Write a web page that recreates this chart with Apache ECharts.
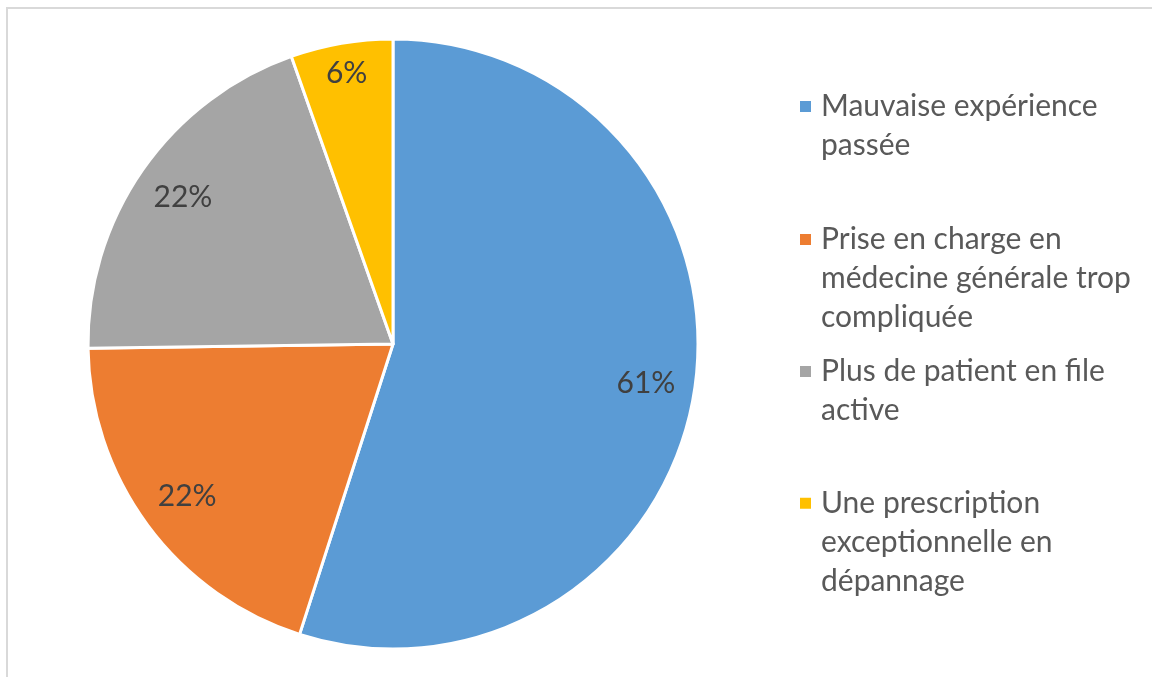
<!DOCTYPE html>
<html>
<head>
<meta charset="utf-8">
<script src="https://cdn.jsdelivr.net/npm/echarts@6/dist/echarts.min.js"></script>
<style>html,body{margin:0;padding:0;background:#fff;}#c{width:1152px;height:677px;}</style>
</head>
<body>
<div id="c"></div>
<script>
const categories = ["Mauvaise expérience passée", "Prise en charge en médecine générale trop compliquée", "Plus de patient en file active", "Une prescription exceptionnelle en dépannage"];
const values = [61, 22, 22, 6];
const legendLabels = ["Mauvaise expérience\npassée", "Prise en charge en\nmédecine générale trop\ncompliquée", "Plus de patient en file\nactive", "Une prescription\nexceptionnelle en\ndépannage"];
const colors = ["#5B9BD5", "#ED7D31", "#A5A5A5", "#FFC000"];

const FONT = "Lato";
const LH = 39;
const CX = 393, CY = 344, R = 305;
const legendCenters = [106.5, 239.5, 371.5, 503.3];

const chart = echarts.init(document.getElementById('c'), null, {renderer: 'canvas'});

const legends = categories.map((name, i) => {
  const n = legendLabels[i].split('\n').length;
  // pad with leading empty lines so the first text line sits level with the marker
  const text = '\n'.repeat(n - 1) + legendLabels[i];
  const H = (2 * n - 1) * LH;
  return {
    data: [{name: name, itemStyle: {color: colors[i]}}],
    orient: 'vertical',
    left: 798,
    top: legendCenters[i] - H / 2,
    padding: 0,
    itemWidth: 13,
    itemHeight: 13,
    icon: 'rect',
    selectedMode: false,
    formatter: () => text,
    textStyle: {fontFamily: FONT, fontSize: 30, color: '#595959', lineHeight: LH, padding: [0, 0, 0, 4]}
  };
});

const baseData = categories.map((name, i) => ({name: name, value: values[i], itemStyle: {color: colors[i]}}));
const overlay = (show) => categories.map((name, i) => ({
  name: name, value: values[i],
  itemStyle: {color: 'rgba(0,0,0,0)', borderWidth: 0},
  label: {show: show(i)}
}));
const labelStyle = {position: 'inside', formatter: '{c}%', fontFamily: FONT, fontSize: 30, color: '#404040'};

chart.setOption({
  animation: false,
  backgroundColor: '#fff',
  legend: legends,
  graphic: [{
    type: 'rect', silent: true,
    shape: {x: 7, y: 8, width: 2000, height: 2000},
    style: {fill: 'none', stroke: '#D9D9D9', lineWidth: 2}
  }],
  series: [
    {
      type: 'pie', center: [CX, CY], radius: [0, R], startAngle: 90, clockwise: true,
      silent: true, avoidLabelOverlap: false,
      label: {show: false}, labelLine: {show: false},
      itemStyle: {borderColor: '#fff', borderWidth: 3},
      emphasis: {disabled: true},
      data: baseData
    },
    {
      type: 'pie', center: [CX, CY], radius: [201, R], startAngle: 90, clockwise: true,
      silent: true, avoidLabelOverlap: false, labelLine: {show: false},
      label: labelStyle, emphasis: {disabled: true},
      data: overlay(i => i < 3)
    },
    {
      type: 'pie', center: [CX, CY], radius: [238, R], startAngle: 90, clockwise: true,
      silent: true, avoidLabelOverlap: false, labelLine: {show: false},
      label: labelStyle, emphasis: {disabled: true},
      data: overlay(i => i === 3)
    }
  ]
});
</script>
</body>
</html>
